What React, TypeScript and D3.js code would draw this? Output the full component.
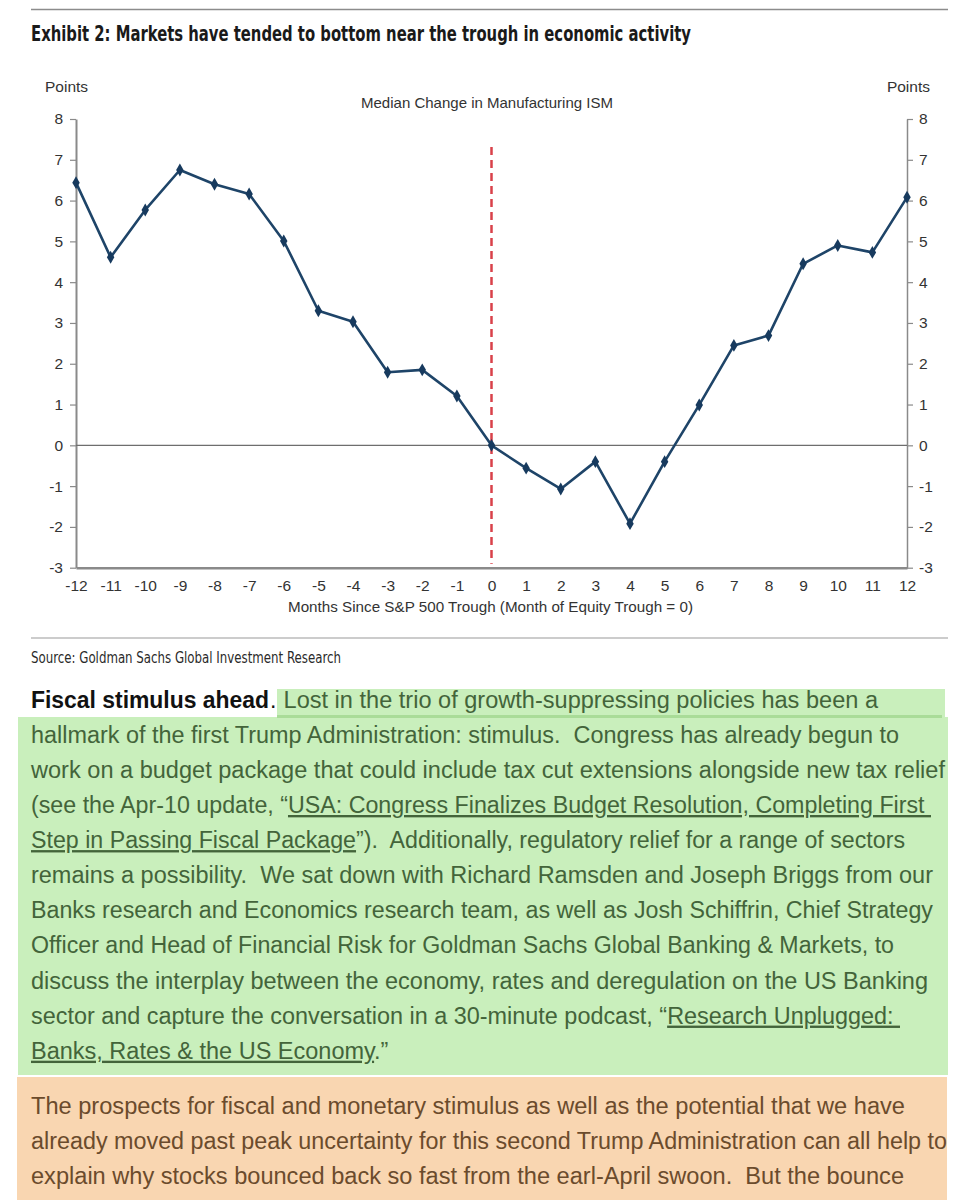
import { useEffect, useRef } from "react";
import * as d3 from "d3";

// Median change in Manufacturing ISM around S&P 500 troughs
const months = [-12, -11, -10, -9, -8, -7, -6, -5, -4, -3, -2, -1, 0, 1, 2, 3, 4, 5, 6, 7, 8, 9, 10, 11, 12];
const ismChange = [
  6.44, 4.61, 5.77, 6.75, 6.4, 6.16, 5.01, 3.3, 3.03, 1.79, 1.85, 1.21, 0, -0.56, -1.07, -0.4, -1.92, -0.4, 0.99,
  2.45, 2.69, 4.45, 4.9, 4.73, 6.08,
];
const yTicks = [-3, -2, -1, 0, 1, 2, 3, 4, 5, 6, 7, 8];

const exhibitTitle = "Exhibit 2: Markets have tended to bottom near the trough in economic activity";
const seriesTitle = "Median Change in Manufacturing ISM";
const xAxisTitle = "Months Since S&P 500 Trough (Month of Equity Trough = 0)";
const sourceText = "Source: Goldman Sachs Global Investment Research";

type Seg = { t: string; u?: boolean };

const leadBold = "Fiscal stimulus ahead";
const leadRest = " Lost in the trio of growth-suppressing policies has been a";
const greenLines: Seg[][] = [
  [{ t: "hallmark of the first Trump Administration: stimulus.  Congress has already begun to" }],
  [{ t: "work on a budget package that could include tax cut extensions alongside new tax relief" }],
  [{ t: "(see the Apr-10 update, \u201C" }, { t: "USA: Congress Finalizes Budget Resolution, Completing First ", u: true }],
  [{ t: "Step in Passing Fiscal Package", u: true }, { t: "\u201D).  Additionally, regulatory relief for a range of sectors" }],
  [{ t: "remains a possibility.  We sat down with Richard Ramsden and Joseph Briggs from our" }],
  [{ t: "Banks research and Economics research team, as well as Josh Schiffrin, Chief Strategy" }],
  [{ t: "Officer and Head of Financial Risk for Goldman Sachs Global Banking & Markets, to" }],
  [{ t: "discuss the interplay between the economy, rates and deregulation on the US Banking" }],
  [{ t: "sector and capture the conversation in a 30-minute podcast, \u201C" }, { t: "Research Unplugged: ", u: true }],
  [{ t: "Banks, Rates & the US Economy", u: true }, { t: ".\u201D" }],
];
const orangeLines = [
  "The prospects for fiscal and monetary stimulus as well as the potential that we have",
  "already moved past peak uncertainty for this second Trump Administration can all help to",
  "explain why stocks bounced back so fast from the earl-April swoon.  But the bounce",
];

// right edge of each rendered text line (layout); 0 = natural width
const greenEnds = [899, 945, 931, 905, 933, 933, 894, 928, 900, 0];
const orangeEnds = [905, 947, 904];

const bodyFont = "'Liberation Sans', Arial, sans-serif";
const chartFont = "'Liberation Sans', Arial, sans-serif";
const narrowFont = "'Liberation Sans Narrow', 'DejaVu Sans Condensed', 'Liberation Sans', sans-serif";

function Chart() {
  const ref = useRef<SVGGElement>(null);

  useEffect(() => {
    if (!ref.current) return;
    const g = d3.select(ref.current);
    g.selectAll("*").remove();

    const x = d3.scaleLinear().domain([-12, 12]).range([76, 907]);
    const y = d3.scaleLinear().domain([-3, 8]).range([567.7, 119]);
    const axisGray = "#8a8a8a";
    const fmt = (d: d3.NumberValue) => `${d}`;

    // left axis
    const left = g
      .append("g")
      .attr("transform", `translate(${x(-12)},0)`)
      .call(d3.axisLeft(y).tickValues(yTicks).tickSize(6).tickSizeOuter(0).tickPadding(7).tickFormat(fmt));
    left.select(".domain").attr("stroke", axisGray).attr("stroke-width", 2);

    // right axis
    const right = g
      .append("g")
      .attr("transform", `translate(${x(12)},0)`)
      .call(d3.axisRight(y).tickValues(yTicks).tickSize(6).tickSizeOuter(0).tickPadding(6).tickFormat(fmt));
    right.select(".domain").attr("stroke", axisGray).attr("stroke-width", 1.5);

    // bottom axis
    const bottom = g
      .append("g")
      .attr("transform", `translate(0,${y(-3)})`)
      .call(d3.axisBottom(x).tickValues(months).tickSize(0).tickPadding(12).tickFormat(fmt));
    bottom.select(".domain").attr("stroke", axisGray).attr("stroke-width", 2.5);

    g.selectAll(".tick line").attr("stroke", axisGray).attr("stroke-width", 1.2);
    g.selectAll(".tick text")
      .attr("fill", "#333")
      .attr("font-size", "15.5px")
      .attr("font-family", chartFont);
    g.selectAll("g").attr("font-family", null).attr("font-size", null);

    // zero line
    g.append("line")
      .attr("x1", x(-12))
      .attr("x2", x(12))
      .attr("y1", y(0))
      .attr("y2", y(0))
      .attr("stroke", "#6e6e6e")
      .attr("stroke-width", 1.3);

    // trough marker
    g.append("line")
      .attr("x1", x(0))
      .attr("x2", x(0))
      .attr("y1", 147)
      .attr("y2", y(-3) - 4)
      .attr("stroke", "#d9414a")
      .attr("stroke-width", 2.5)
      .attr("stroke-dasharray", "8,5");

    const pts = months.map((m, i) => [m, ismChange[i]] as [number, number]);
    const line = d3
      .line<[number, number]>()
      .x((d) => x(d[0]))
      .y((d) => y(d[1]));

    g.append("path")
      .datum(pts)
      .attr("fill", "none")
      .attr("stroke", "#1e4468")
      .attr("stroke-width", 2.6)
      .attr("stroke-linejoin", "round")
      .attr("d", line);

    const diamond = d3.symbol(d3.symbolDiamond, 48);
    g.selectAll("path.pt")
      .data(pts)
      .join("path")
      .attr("class", "pt")
      .attr("transform", (d) => `translate(${x(d[0])},${y(d[1])})`)
      .attr("d", diamond)
      .attr("fill", "#173a5e");

    // labels
    g.append("text")
      .attr("x", 45)
      .attr("y", 92)
      .attr("font-size", "15.5px")
      .attr("fill", "#333")
      .attr("font-family", chartFont)
      .text("Points");
    g.append("text")
      .attr("x", 930)
      .attr("y", 92)
      .attr("text-anchor", "end")
      .attr("font-size", "15.5px")
      .attr("fill", "#333")
      .attr("font-family", chartFont)
      .text("Points");
    g.append("text")
      .attr("x", 361)
      .attr("y", 108)
      .attr("font-size", "14.5px")
      .attr("fill", "#333")
      .attr("font-family", chartFont)
      .attr("textLength", 252)
      .attr("lengthAdjust", "spacingAndGlyphs")
      .text(seriesTitle);
    g.append("text")
      .attr("x", 288)
      .attr("y", 612)
      .attr("font-size", "15px")
      .attr("fill", "#333")
      .attr("font-family", chartFont)
      .attr("textLength", 405)
      .attr("lengthAdjust", "spacingAndGlyphs")
      .text(xAxisTitle);
  }, []);

  return <g ref={ref} />;
}

function SegLine({ segs, y, end, fill }: { segs: Seg[]; y: number; end: number; fill: string }) {
  const fit = end > 0 ? { textLength: end - 31, lengthAdjust: "spacingAndGlyphs" } : {};
  return (
    <text x={31} y={y} fill={fill} fontSize={23.5} fontFamily={bodyFont} {...fit} style={{ whiteSpace: "pre" }}>
      {segs.map((s, i) => (
        <tspan key={i} textDecoration={s.u ? "underline" : undefined}>
          {s.t}
        </tspan>
      ))}
    </text>
  );
}

export default function App() {
  const base = 707.7;
  const step = 35.1;
  const greenText = "#43643a";
  const orangeText = "#6b4b2c";
  return (
    <svg
      width={959}
      height={1200}
      viewBox="0 0 959 1200"
      style={{ position: "absolute", left: 0, top: 0, background: "#fff" }}
    >
      <rect x={0} y={0} width={959} height={1200} fill="#fff" />
      <line x1={31} x2={948} y1={9.5} y2={9.5} stroke="#8c8c8c" strokeWidth={1.5} />
      <text
        x={31}
        y={40.5}
        fontSize={22}
        fontWeight="bold"
        fontFamily={narrowFont}
        fill="#1a1a1a"
        textLength={660}
        lengthAdjust="spacingAndGlyphs"
      >
        {exhibitTitle}
      </text>

      <Chart />

      <line x1={31} x2={948} y1={638} y2={638} stroke="#9a9a9a" strokeWidth={1.2} />
      <text
        x={31}
        y={662.5}
        fontSize={16}
        fontFamily={narrowFont}
        fill="#2a2a2a"
        textLength={310}
        lengthAdjust="spacingAndGlyphs"
      >
        {sourceText}
      </text>

      {/* highlighted paragraph */}
      <rect x={277} y={689} width={668} height={29} fill="#c9efbc" />
      <rect x={18} y={717} width={930} height={358} fill="#c9efbc" />
      <line x1={277} x2={942} y1={716.5} y2={716.5} stroke="#a9dc98" strokeWidth={3} />
      <rect x={17} y={1077} width={930} height={123} fill="#f9d6b1" />

      <text
        x={31}
        y={base}
        fontSize={23}
        fontWeight="bold"
        fontFamily={bodyFont}
        fill="#111"
        textLength={238}
        lengthAdjust="spacingAndGlyphs"
      >
        {leadBold}
      </text>
      <text x={270} y={base} fontSize={23} fontFamily={bodyFont} fill="#111">
        .
      </text>
      <text
        x={277}
        y={base}
        fontSize={23.5}
        fontFamily={bodyFont}
        fill={greenText}
        textLength={601}
        lengthAdjust="spacingAndGlyphs"
        style={{ whiteSpace: "pre" }}
      >
        {leadRest}
      </text>

      {greenLines.map((segs, i) => (
        <SegLine key={i} segs={segs} y={base + step * (i + 1)} end={greenEnds[i]} fill={greenText} />
      ))}
      {orangeLines.map((t, i) => (
        <SegLine key={i} segs={[{ t }]} y={1114 + step * i} end={orangeEnds[i]} fill={orangeText} />
      ))}
    </svg>
  );
}
